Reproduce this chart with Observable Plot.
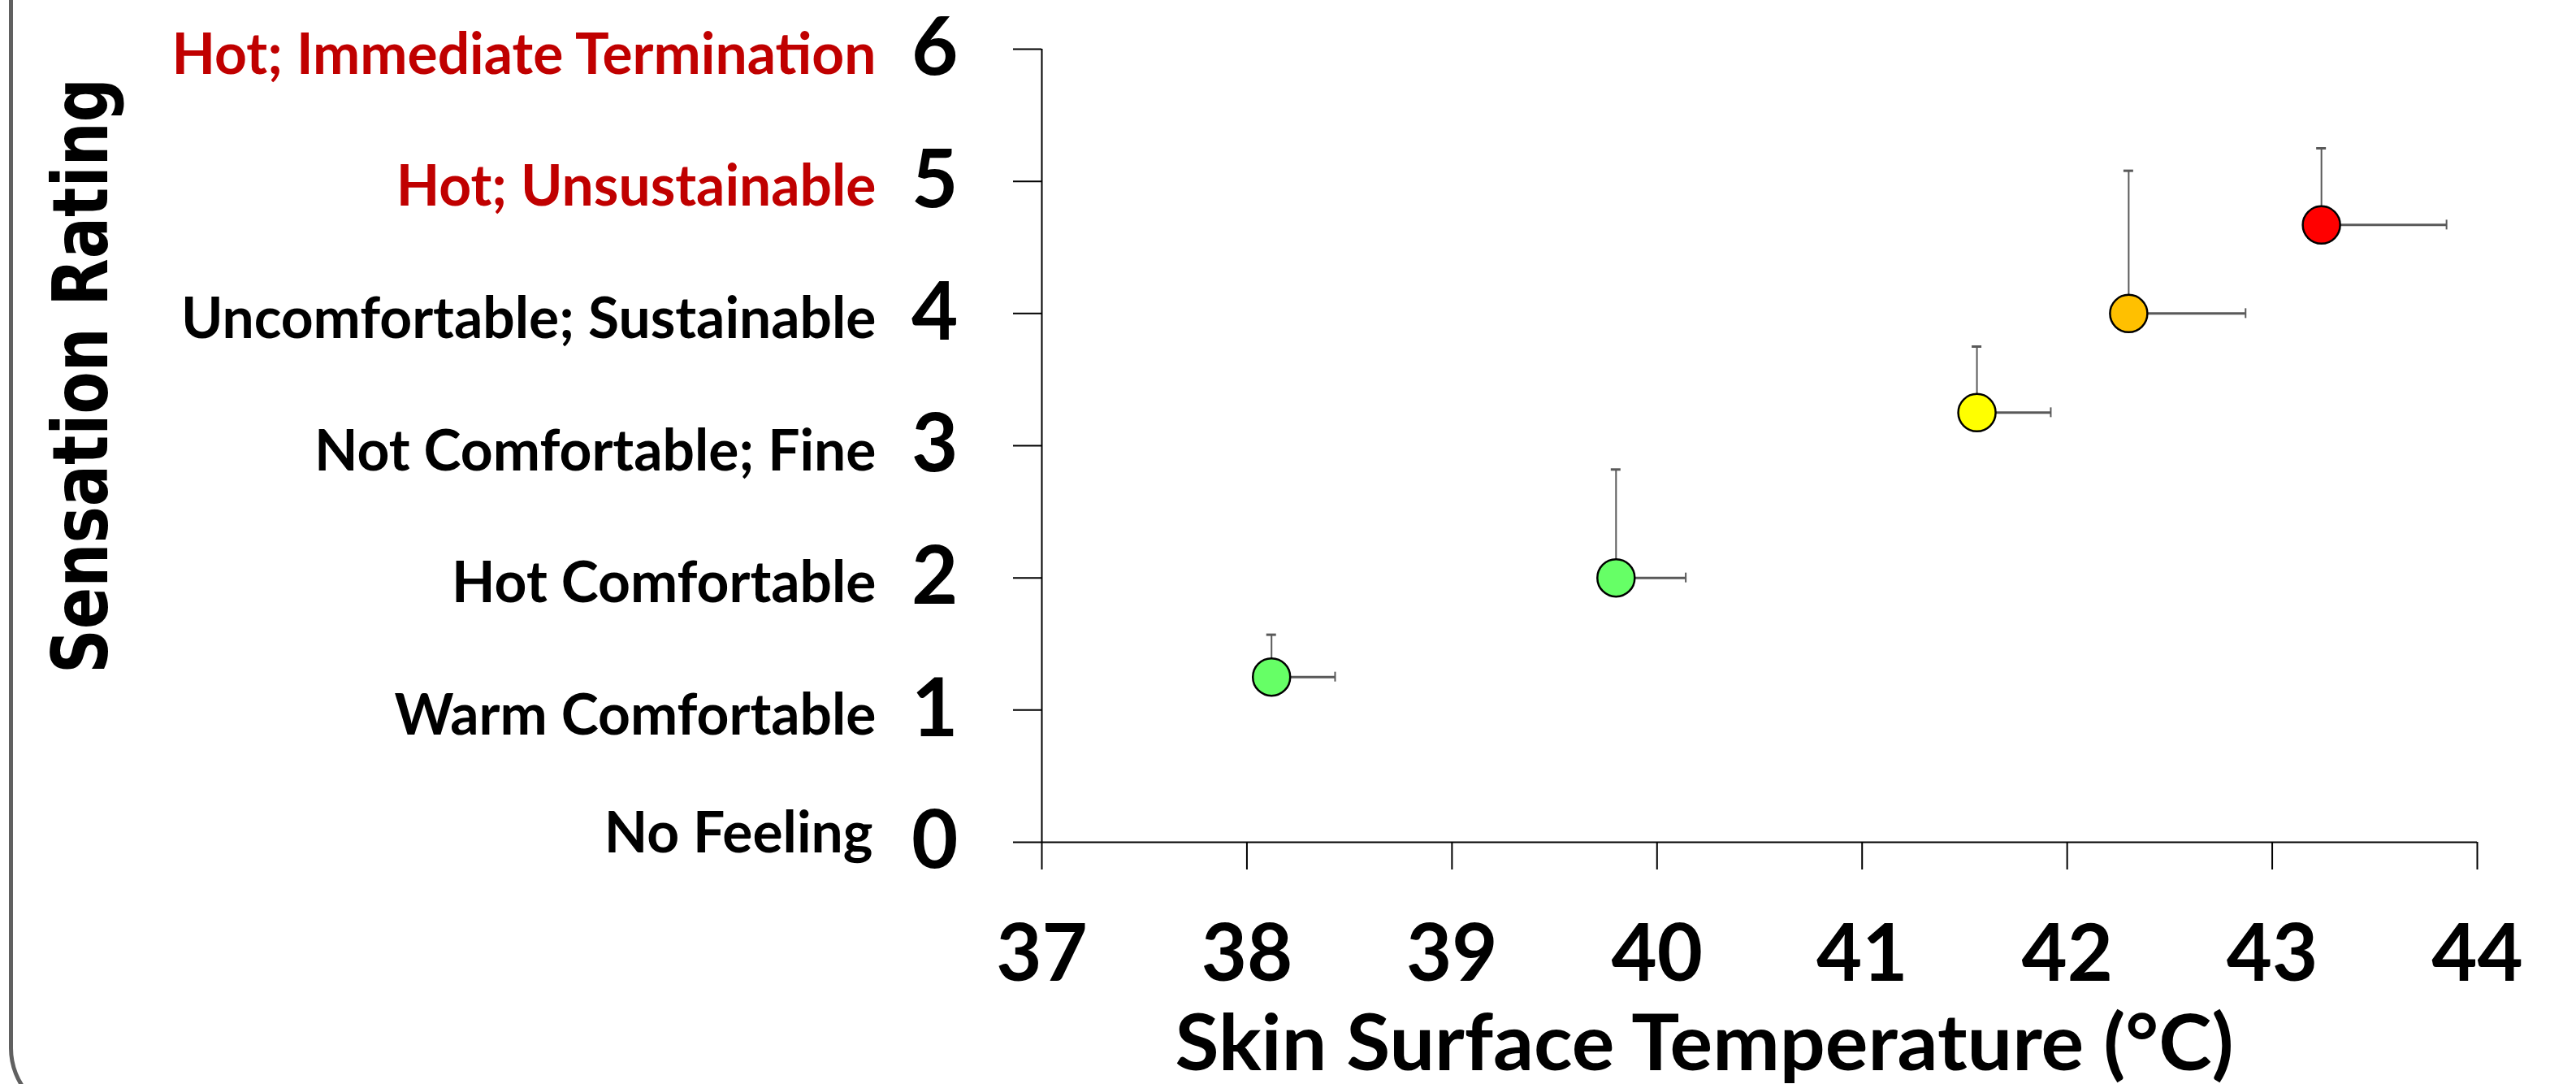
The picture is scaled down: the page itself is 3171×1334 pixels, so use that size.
<!DOCTYPE html>
<html><head><meta charset="utf-8">
<script src="https://cdn.jsdelivr.net/npm/d3@7"></script>
<script src="https://cdn.jsdelivr.net/npm/@observablehq/plot@0.6"></script>
<style>
html,body{margin:0;padding:0;background:#fff;overflow:hidden}
#wrap{position:relative;width:3171px;height:1334px;overflow:hidden;background:#fff}
#frame{position:absolute;left:11px;top:-200px;width:4000px;height:1577px;box-sizing:border-box;border:5px solid #606060;border-radius:87px}
#chart{position:absolute;left:0;top:0}
</style></head><body>
<div id="wrap"><div id="frame"></div><div id="chart"></div></div>
<script>
// ---- data ----
const ratingValues = [0, 1, 2, 3, 4, 5, 6];
const ratingLabels = [
  "No Feeling",
  "Warm Comfortable",
  "Hot Comfortable",
  "Not Comfortable; Fine",
  "Uncomfortable; Sustainable",
  "Hot; Unsustainable",
  "Hot; Immediate Termination"
];
const tempTicks = [37, 38, 39, 40, 41, 42, 43, 44];
const skinTemp = [38.12, 39.80, 41.56, 42.30, 43.24];
const skinTempSD = [0.31, 0.34, 0.36, 0.57, 0.61];
const sensation = [1.25, 2.00, 3.25, 4.00, 4.67];
const sensationSD = [0.32, 0.82, 0.50, 1.08, 0.58];
const xTitle = "Skin Surface Temperature (°C)";
const yTitle = "Sensation Rating";

// ---- palette ----
const pointColors = ["#66FF66", "#66FF66", "#FFFF00", "#FFC000", "#FF0000"];
const labelColors = ["#000000", "#000000", "#000000", "#000000", "#000000", "#C00000", "#C00000"];

const points = skinTemp.map((t, i) => ({
  temp: t, tempHi: t + skinTempSD[i],
  rating: sensation[i], ratingHi: sensation[i] + sensationSD[i],
  color: pointColors[i]
}));
const cats = ratingValues.map((v, i) => ({value: v, label: ratingLabels[i], color: labelColors[i]}));

const font = 'Lato, "Open Sans", sans-serif';
const errColor = "#595959";

const plot = Plot.plot({
  width: 3171, height: 1334,
  marginLeft: 1282, marginRight: 122, marginTop: 60, marginBottom: 298,
  style: {fontFamily: font, background: "transparent", overflow: "visible", color: "black"},
  x: {domain: [37, 44]},
  y: {domain: [0, 6]},
  color: {type: "identity"},
  marks: [
    Plot.ruleX([37], {stroke: "black", strokeWidth: 2}),
    Plot.ruleY([0], {stroke: "black", strokeWidth: 2}),
    Plot.axisX({ticks: tempTicks, tickSize: 34, tickPadding: 68, fontSize: 97, fontWeight: "bold", label: null, strokeWidth: 2, tickFormat: d => String(d)}),
    Plot.axisY({ticks: ratingValues, tickSize: 35, tickPadding: 68, fontSize: 99, fontWeight: "bold", label: null, strokeWidth: 2, tickFormat: d => String(d)}),
    Plot.text(cats.filter(d => d.value > 0), {y: "value", text: "label", fill: "color", frameAnchor: "left", textAnchor: "end", lineAnchor: "bottom", dx: -204, dy: 30, fontSize: 71, fontWeight: "bold"}),
    Plot.text(cats.filter(d => d.value === 0), {y: "value", text: "label", fill: "color", frameAnchor: "left", textAnchor: "end", lineAnchor: "bottom", dx: -208, dy: 12, fontSize: 71, fontWeight: "bold"}),
    // error bars (one-sided, upward and rightward)
    Plot.ruleX(points, {x: "temp", y1: "rating", y2: "ratingHi", stroke: errColor, strokeWidth: 2}),
    Plot.ruleY(points, {y: "ratingHi", x1: "temp", x2: "temp", insetLeft: -6, insetRight: -6, stroke: errColor, strokeWidth: 3}),
    Plot.ruleY(points, {y: "rating", x1: "temp", x2: "tempHi", stroke: errColor, strokeWidth: 3}),
    Plot.ruleX(points, {x: "tempHi", y1: "rating", y2: "rating", insetTop: -6, insetBottom: -6, stroke: errColor, strokeWidth: 2}),
    Plot.dot(points, {x: "temp", y: "rating", r: 23, fill: "color", stroke: "black", strokeWidth: 2.5}),
    Plot.text([xTitle], {text: d => d, frameAnchor: "bottom", textAnchor: "middle", dx: 2097 - 2165, dy: 1316 - 1036, lineAnchor: "bottom", fontSize: 95, fontWeight: "bold", fill: "black"}),
    Plot.text([yTitle], {text: d => d, frameAnchor: "left", textAnchor: "middle", rotate: -90, dx: 131 - 1282, dy: 462 - 548, lineAnchor: "bottom", fontFamily: "DejaVu Sans", fontSize: 94, fontWeight: "bold", fill: "black"})
  ]
});
document.getElementById("chart").appendChild(plot);

// horizontal condensing of text to mimic the reference's narrow typeface
const textEls = [...plot.querySelectorAll("text")];
const find = s => textEls.find(t => t.textContent === s);
function squeeze(el, len) {
  el.setAttribute("textLength", len.toFixed(1));
  el.setAttribute("lengthAdjust", "spacingAndGlyphs");
}
const natural = new Map(ratingLabels.map(l => [l, find(l).getComputedTextLength()]));
const k = 867 / natural.get(ratingLabels[6]);
for (const l of ratingLabels) squeeze(find(l), natural.get(l) * k);
squeeze(find(xTitle), 1303);
squeeze(find(yTitle), 733);
</script>
</body></html>
